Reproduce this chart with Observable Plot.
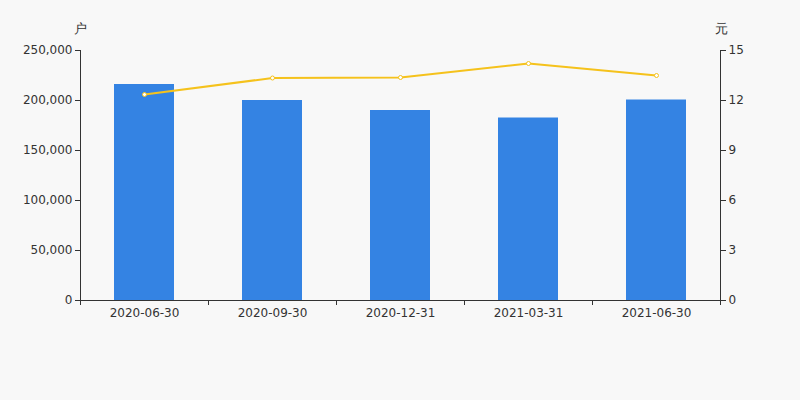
<!DOCTYPE html>
<html><head><meta charset="utf-8">
<script src="https://cdn.jsdelivr.net/npm/d3@7"></script>
<script src="https://cdn.jsdelivr.net/npm/@observablehq/plot@0.6"></script>
<style>
body{margin:0;background:#f8f8f8;}
#chart svg{background:#f8f8f8;display:block;}
</style>
</head><body><div id="chart"></div>
<script>
const dates = ["2020-06-30", "2020-09-30", "2020-12-31", "2021-03-31", "2021-06-30"];
const holders = [216000, 200000, 190000, 182500, 200500];
const prices = [12.36, 13.35, 13.38, 14.22, 13.50];
const leftTicks = [0, 50000, 100000, 150000, 200000, 250000];
const rightTicks = [0, 3, 6, 9, 12, 15];
const leftMax = 250000, rightMax = 15;
const k = leftMax / rightMax;

const rows = dates.map((d, i) => ({date: d, holders: holders[i], price: prices[i]}));
const fmt = d3.format(",");
const txt = "#333";

const chart = Plot.plot({
  width: 800, height: 400,
  marginLeft: 80, marginRight: 80, marginTop: 50, marginBottom: 100,
  style: {fontFamily: "DejaVu Sans", fontSize: "12px", color: txt, background: "#f8f8f8"},
  x: {domain: dates, type: "band", paddingInner: 0.53, paddingOuter: 0.265, label: null},
  y: {domain: [0, leftMax], label: null},
  marks: [
    Plot.barY(rows, {x: "date", y: "holders", fill: "#3483e3"}),
    Plot.lineY(rows, {x: "date", y: d => d.price * k, stroke: "#f5c21c", strokeWidth: 2}),
    Plot.dot(rows, {x: "date", y: d => d.price * k, r: 2, fill: "#fff", stroke: "#f5c21c", strokeWidth: 1}),
    Plot.ruleY([0], {stroke: "#333"}),
    Plot.ruleX([dates[0]], {dx: -64, y1: 0, y2: leftMax, stroke: "#333"}),
    Plot.ruleX([dates[dates.length - 1]], {dx: 64, y1: 0, y2: leftMax, stroke: "#333"}),
    Plot.axisY({anchor: "left", ticks: leftTicks, tickFormat: fmt, tickSize: 5, tickPadding: 3, label: null, fontSize: 12, fill: txt, stroke: "#333"}),
    Plot.axisY({anchor: "right", ticks: rightTicks.map(v => v * k), tickFormat: v => String(Math.round(v / k)), tickSize: 5, tickPadding: 3, label: null, fontSize: 12, fill: txt, stroke: "#333"}),
    Plot.axisX({anchor: "bottom", tickSize: 0, tickPadding: 8, label: null, fontSize: 12, fill: txt}),
    Plot.axisX({anchor: "bottom", tickSize: 5, tickFormat: () => "", dx: -64, label: null, stroke: "#333"}),
    Plot.axisX({anchor: "bottom", ticks: [dates[dates.length - 1]], tickSize: 5, tickFormat: () => "", dx: 64, label: null, stroke: "#333"}),
    Plot.text(["户"], {frameAnchor: "top-left", lineAnchor: "middle", dy: -22, dx: 0, text: d => d, fontSize: 13, fill: txt, textAnchor: "middle"}),
    Plot.text(["元"], {frameAnchor: "top-right", lineAnchor: "middle", dy: -22, dx: 1, text: d => d, fontSize: 13, fill: txt, textAnchor: "middle"})
  ]
});
document.getElementById("chart").appendChild(chart);
</script>
</body></html>
